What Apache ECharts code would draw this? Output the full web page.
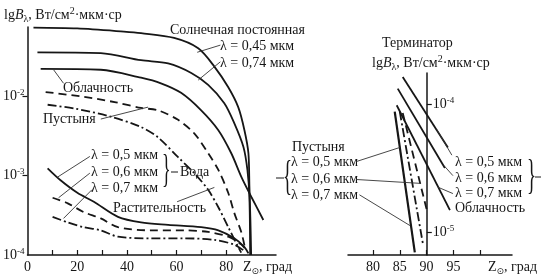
<!DOCTYPE html>
<html>
<head>
<meta charset="utf-8">
<script src="https://cdn.jsdelivr.net/npm/echarts@6/dist/echarts.min.js"></script>
<style>
  html, body { margin: 0; background: #fff; }
  #main { width: 543px; height: 276px; }
</style>
</head>
<body>
<div id="main"></div>
<script>
// левая панель: Z (град), lg B
const solar045 = [[2.4,-1.14],[20,-1.15],[38.8,-1.19],[45.7,-1.21],[59,-1.27],[68.7,-1.40],[75.2,-1.63],[80.8,-1.89],[84.8,-2.14],[87.3,-2.43],[88.9,-2.72],[89.3,-3.14],[89.7,-3.56],[90,-4]];
const solar074 = [[4,-1.45],[29.5,-1.46],[45.7,-1.55],[56.6,-1.59],[65.9,-1.71],[72.7,-1.86],[79.2,-2.09],[83.2,-2.34],[86.9,-2.64],[88.5,-2.93],[89.3,-3.27],[89.6,-4]];
const clouds = [[5.3,-1.66],[29.5,-1.67],[45.7,-1.77],[53.7,-1.84],[61.8,-1.96],[69.9,-2.18],[76.8,-2.43],[82,-2.72],[86.1,-3.02],[90.1,-3.27],[94.9,-3.56]];
const desert = [[7.3,-1.95],[22.6,-2.01],[35.6,-2.08],[45.7,-2.15],[52.5,-2.18],[60.6,-2.30],[67.1,-2.47],[72.7,-2.72],[76.8,-2.93],[80.8,-3.22],[83.2,-3.47],[86.1,-3.72],[87.7,-3.94]];
const vegetation = [[8.1,-2.11],[19.4,-2.16],[33.5,-2.26],[45.7,-2.39],[52.5,-2.52],[60.6,-2.77],[67.1,-2.97],[72.7,-3.18],[76.8,-3.40],[80.8,-3.65],[84.8,-3.90],[86,-3.97]];
const water05 = [[8.1,-2.91],[13.3,-3.06],[20.2,-3.22],[26.7,-3.33],[36.4,-3.52],[45.7,-3.59],[56.6,-3.62],[69.9,-3.65],[76.8,-3.69],[83.2,-3.79],[87.3,-3.90],[88.9,-3.98]];
const water06 = [[10.1,-3.28],[16.2,-3.35],[22.6,-3.46],[29.5,-3.54],[36.4,-3.65],[49.7,-3.69],[63,-3.69],[72.7,-3.71],[80.8,-3.77],[86.1,-3.87],[88.5,-3.96]];
const water07 = [[10.1,-3.52],[16.2,-3.59],[22.6,-3.65],[29.5,-3.69],[36.4,-3.77],[49.7,-3.79],[63,-3.79],[75.2,-3.81],[83.2,-3.87],[87.3,-3.95]];

// правая панель (терминатор)
const cloudT05 = [[85.55,-3.79],[93.96,-4.34]];
const cloudT06 = [[84.62,-3.88],[93.4,-4.50]];
const cloudT07 = [[84.43,-4.01],[94.34,-4.83]];
const desertT05 = [[84.06,-4.06],[87.8,-5.16]];
const desertT06 = [[85.55,-4.07],[90.04,-4.83]];
const desertT07 = [[85,-4.06],[89.3,-5.09]];

// подписи осей
const leftXTicks = [10,20,30,40,50,60,70,80];
const leftXLabels = [0,20,40,60,80];
const leftYLabels = [-4,-3,-2];
const rightXTicks = [80,85,90,95,100];
const rightXLabels = [80,85,90,95];
const rightYLabels = [-5,-4];

const INK = '#161616';
const FONT = 'Liberation Serif';

let myChart = echarts.init(document.getElementById('main'));

const pow10 = v => '{b|10}{s|' + v + '}';
const powRich = {
    b: { fontSize: 14, fontFamily: FONT, color: INK, lineHeight: 16 },
    s: { fontSize: 9, fontFamily: FONT, color: INK, verticalAlign: 'top' }
};

function curve(data, type, grid, width) {
    return {
        type: 'line', data: data, xAxisIndex: grid, yAxisIndex: grid,
        showSymbol: false, smooth: 0.3, silent: true,
        lineStyle: { color: INK, width: width || 1.8, type: type || 'solid' }
    };
}
function leader(a, b, grid) {
    return {
        type: 'line', data: [a, b], xAxisIndex: grid, yAxisIndex: grid,
        showSymbol: false, silent: true,
        lineStyle: { color: '#333', width: 0.9 }
    };
}

const DASH = [8, 5];
const DASHDOT = [9, 3, 2, 3];

const series = [
    curve(solar045, 'solid', 0),
    curve(solar074, 'solid', 0),
    curve(clouds, 'solid', 0),
    curve(desert, DASH, 0),
    curve(vegetation, DASHDOT, 0),
    curve(water05, 'solid', 0),
    curve(water06, DASH, 0),
    curve(water07, DASHDOT, 0),
    leader([68.3,-1.45], [77.6,-1.36], 0),
    leader([68.7,-1.80], [77.6,-1.57], 0),
    leader([10.5,-1.67], [14.5,-1.84], 0),
    leader([29.5,-2.29], [48.5,-2.14], 0),
    leader([25.1,-2.76], [12.1,-3.02], 0),
    leader([25.1,-2.97], [12.5,-3.28], 0),
    leader([25.9,-3.18], [14.5,-3.54], 0),
    leader([60.2,-3.33], [75.2,-3.15], 0),

    curve(cloudT05, 'solid', 1),
    curve(cloudT06, 'solid', 1),
    curve(cloudT07, 'solid', 1),
    curve(desertT05, 'solid', 1, 2.2),
    curve(desertT06, DASH, 1),
    curve(desertT07, DASHDOT, 1),
    leader([76.9,-4.45], [85,-4.34], 1),
    leader([76.9,-4.59], [88.7,-4.62], 1),
    leader([77.5,-4.71], [86.9,-4.95], 1),
    leader([91.9,-4.20], [94.7,-4.40], 1),
    leader([93.2,-4.48], [94.9,-4.56], 1),
    leader([92.1,-4.65], [94.9,-4.70], 1)
];

// текстовые подписи (пиксели)
const nameRich = {
    n: { fontSize: 14, fontFamily: FONT, fill: INK, lineHeight: 18 },
    i: { fontSize: 14, fontFamily: FONT, fontStyle: 'italic', fill: INK, lineHeight: 18 },
    sub: { fontSize: 10, fontFamily: FONT, fill: INK, verticalAlign: 'bottom' },
    sup: { fontSize: 10, fontFamily: FONT, fill: INK, verticalAlign: 'top' },
    sun: { fontSize: 9, fontFamily: 'DejaVu Sans', fill: INK, verticalAlign: 'bottom' }
};
const yName = '{n|lg}{i|B}{sub|λ}{n|, Вт/см}{sup|2}{n|·мкм·ср}';
const zName = '{n|Z}{sun|⊙}{n|, град}';

const labels = [
    [4, 15, yName],
    [170, 30, 'Солнечная постоянная'],
    [220, 46, 'λ = 0,45 мкм'],
    [220, 63, 'λ = 0,74 мкм'],
    [63, 88, 'Облачность'],
    [43, 119, 'Пустыня'],
    [91, 155, 'λ = 0,5 мкм'],
    [91, 172, 'λ = 0,6 мкм'],
    [91, 188, 'λ = 0,7 мкм'],
    [180, 172, 'Вода'],
    [113, 208, 'Растительность'],
    [243, 267, zName],
    [382, 43, 'Терминатор'],
    [372, 63, yName],
    [292, 147, 'Пустыня'],
    [291, 162, 'λ = 0,5 мкм'],
    [291, 179, 'λ = 0,6 мкм'],
    [291, 195, 'λ = 0,7 мкм'],
    [455, 162, 'λ = 0,5 мкм'],
    [455, 178, 'λ = 0,6 мкм'],
    [455, 193, 'λ = 0,7 мкм'],
    [455, 208, 'Облачность'],
    [488, 267, zName]
];

const graphic = labels.map(l => ({
    type: 'text', x: l[0], y: l[1], silent: true,
    style: {
        text: l[2].charAt(0) === '{' ? l[2] : '{n|' + l[2] + '}',
        rich: nameRich, fill: INK,
        textAlign: 'left', textVerticalAlign: 'middle'
    }
}));
// фигурные скобки
graphic.push(
    { type: 'text', x: 162, y: 171, scaleX: 0.45, silent: true,
      style: { text: '}', fontSize: 40, fontFamily: FONT, fill: INK, textVerticalAlign: 'middle' } },
    { type: 'line', silent: true, shape: { x1: 171, y1: 172, x2: 178, y2: 172 }, style: { stroke: INK, lineWidth: 1 } },
    { type: 'text', x: 283, y: 178, scaleX: 0.45, silent: true,
      style: { text: '{', fontSize: 42, fontFamily: FONT, fill: INK, textVerticalAlign: 'middle' } },
    { type: 'line', silent: true, shape: { x1: 276, y1: 178, x2: 284, y2: 178 }, style: { stroke: INK, lineWidth: 1 } },
    { type: 'text', x: 527, y: 177, scaleX: 0.45, silent: true,
      style: { text: '}', fontSize: 42, fontFamily: FONT, fill: INK, textVerticalAlign: 'middle' } },
    { type: 'line', silent: true, shape: { x1: 535, y1: 177, x2: 541, y2: 177 }, style: { stroke: INK, lineWidth: 1 } }
);

const axisLine = { onZero: false, lineStyle: { color: INK, width: 1.5 } };
const tickLabel = { fontSize: 14, fontFamily: FONT, color: INK };

myChart.setOption({
    animation: false,
    backgroundColor: '#fff',
    grid: [
        { left: 26, top: 27, width: 250, height: 228 },
        { left: 348, top: 73, width: 164, height: 182 }
    ],
    xAxis: [
        {
            type: 'value', gridIndex: 0, min: 0, max: 100,
            axisLine: axisLine, splitLine: { show: false },
            axisTick: { inside: true, length: 5, lineStyle: { color: INK, width: 1.2 }, customValues: leftXTicks },
            axisLabel: Object.assign({ margin: 5, customValues: leftXLabels }, tickLabel)
        },
        {
            type: 'value', gridIndex: 1, min: 75.36, max: 105.9,
            axisLine: axisLine, splitLine: { show: false },
            axisTick: { inside: true, length: 5, lineStyle: { color: INK, width: 1.2 }, customValues: rightXTicks },
            axisLabel: Object.assign({ margin: 5, customValues: rightXLabels }, tickLabel)
        }
    ],
    yAxis: [
        {
            type: 'value', gridIndex: 0, min: -4, max: -1.132,
            axisLine: axisLine, splitLine: { show: false },
            axisTick: { length: 5, lineStyle: { color: INK, width: 1.2 }, customValues: [-3, -2] },
            axisLabel: { margin: 3, customValues: leftYLabels, formatter: pow10, rich: powRich }
        },
        {
            type: 'value', gridIndex: 1, min: -5.18, max: -3.758, position: 'left', offset: -78.8,
            axisLine: axisLine, splitLine: { show: false },
            axisTick: { inside: true, length: 5, lineStyle: { color: INK, width: 1.2 }, customValues: rightYLabels },
            axisLabel: { inside: true, margin: 6, customValues: rightYLabels, formatter: pow10, rich: powRich }
        }
    ],
    series: series,
    graphic: graphic
});
</script>
</body>
</html>
